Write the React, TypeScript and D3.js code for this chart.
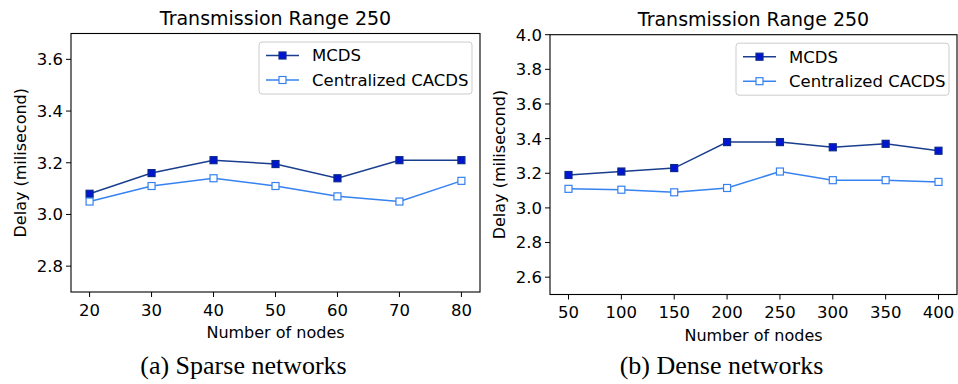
import React from "react";
import * as d3 from "d3";

// sparse networks
const sparseNodes = [20, 30, 40, 50, 60, 70, 80];
const sparseMcds = [3.08, 3.16, 3.21, 3.195, 3.14, 3.21, 3.21];
const sparseCacds = [3.05, 3.11, 3.14, 3.11, 3.07, 3.05, 3.13];
const sparseYTicks = [2.8, 3.0, 3.2, 3.4, 3.6];

// dense networks
const denseNodes = [50, 100, 150, 200, 250, 300, 350, 400];
const denseMcds = [3.19, 3.21, 3.23, 3.38, 3.38, 3.35, 3.37, 3.33];
const denseCacds = [3.11, 3.105, 3.09, 3.115, 3.21, 3.16, 3.16, 3.15];
const denseYTicks = [2.6, 2.8, 3.0, 3.2, 3.4, 3.6, 3.8, 4.0];

const seriesNames = ["MCDS", "Centralized CACDS"];
const titleText = "Transmission Range 250";
const xLabel = "Number of nodes";
const yLabel = "Delay (milisecond)";

const FONT = "'DejaVu Sans', sans-serif";
const MCDS_LINE = "#1a3e8e";
const MCDS_FILL = "#0014d4";
const CACDS_LINE = "#3582f0";

type PanelProps = {
  left: number;
  top: number;
  right: number;
  bottom: number;
  nodes: number[];
  mcds: number[];
  cacds: number[];
  yDomain: [number, number];
  yTicks: number[];
  caption: string;
};

const Panel = ({ left, top, right, bottom, nodes, mcds, cacds, yDomain, yTicks, caption }: PanelProps) => {
  const span = d3.max(nodes)! - d3.min(nodes)!;
  const x = d3
    .scaleLinear()
    .domain([d3.min(nodes)! - span * 0.05, d3.max(nodes)! + span * 0.05])
    .range([left, right]);
  const y = d3.scaleLinear().domain(yDomain).range([bottom, top]);

  const line = d3
    .line<[number, number]>()
    .x((d) => x(d[0]))
    .y((d) => y(d[1]));

  const series = [
    { name: seriesNames[0], vals: mcds, stroke: MCDS_LINE, fill: MCDS_FILL, edge: "#0a2a8a" },
    { name: seriesNames[1], vals: cacds, stroke: CACDS_LINE, fill: "#ffffff", edge: CACDS_LINE },
  ];

  const cx = (left + right) / 2;
  const cy = (top + bottom) / 2;
  const legX = right - 221;
  const legY = top + 8.5;

  return (
    <g>
      {series.map((s) => (
        <g key={s.name}>
          <path
            d={line(nodes.map((n, i) => [n, s.vals[i]]))!}
            fill="none"
            stroke={s.stroke}
            strokeWidth={1.5}
          />
          {nodes.map((n, i) => (
            <rect
              key={n}
              x={x(n) - 3.5}
              y={y(s.vals[i]) - 3.5}
              width={7}
              height={7}
              fill={s.fill}
              stroke={s.edge}
              strokeWidth={1.2}
            />
          ))}
        </g>
      ))}

      <rect x={left} y={top} width={right - left} height={bottom - top} fill="none" stroke="#000" strokeWidth={1.1} />

      {/* x axis */}
      {nodes.map((n) => (
        <g key={n}>
          <line x1={x(n)} x2={x(n)} y1={bottom} y2={bottom + 5} stroke="#000" strokeWidth={1} />
          <text x={x(n)} y={bottom + 23.5} textAnchor="middle" fontFamily={FONT} fontSize={16.5} fill="#000">
            {n}
          </text>
        </g>
      ))}
      <text x={cx} y={bottom + 46} textAnchor="middle" fontFamily={FONT} fontSize={16} fill="#000">
        {xLabel}
      </text>

      {/* y axis */}
      {yTicks.map((t) => (
        <g key={t}>
          <line x1={left - 5} x2={left} y1={y(t)} y2={y(t)} stroke="#000" strokeWidth={1} />
          <text
            x={left - 8}
            y={y(t)}
            dy="0.36em"
            textAnchor="end"
            fontFamily={FONT}
            fontSize={16.5}
            fill="#000"
          >
            {t.toFixed(1)}
          </text>
        </g>
      ))}
      <text
        transform={`translate(${left - 45},${cy}) rotate(-90)`}
        textAnchor="middle"
        fontFamily={FONT}
        fontSize={16}
        fill="#000"
      >
        {yLabel}
      </text>

      <text x={cx} y={top - 8.5} textAnchor="middle" fontFamily={FONT} fontSize={19} fill="#000">
        {titleText}
      </text>

      {/* legend */}
      <rect x={legX} y={legY} width={213} height={52} rx={3} fill="#fff" fillOpacity={0.8} stroke="#cccccc" strokeWidth={1} />
      {series.map((s, i) => {
        const ly = legY + 13.5 + i * 24.5;
        return (
          <g key={s.name}>
            <line x1={legX + 7} x2={legX + 40} y1={ly} y2={ly} stroke={s.stroke} strokeWidth={1.5} />
            <rect x={legX + 20} y={ly - 3.5} width={7} height={7} fill={s.fill} stroke={s.edge} strokeWidth={1.2} />
            <text x={legX + 53} y={ly} dy="0.36em" fontFamily={FONT} fontSize={16.5} fill="#000">
              {s.name}
            </text>
          </g>
        );
      })}

      <text
        x={cx - 32}
        y={374}
        textAnchor="middle"
        fontFamily="'Liberation Serif', 'Times New Roman', serif"
        fontSize={26}
        fill="#000"
      >
        {caption}
      </text>
    </g>
  );
};

export default function App() {
  return (
    <svg
      width={958}
      height={384}
      style={{ position: "absolute", left: 0, top: 0, background: "#fff" }}
    >
      <rect width={958} height={384} fill="#fff" />
      <Panel
        left={71}
        top={33.5}
        right={480}
        bottom={292}
        nodes={sparseNodes}
        mcds={sparseMcds}
        cacds={sparseCacds}
        yDomain={[2.7, 3.7]}
        yTicks={sparseYTicks}
        caption="(a) Sparse networks"
      />
      <Panel
        left={550}
        top={34.7}
        right={957}
        bottom={294.5}
        nodes={denseNodes}
        mcds={denseMcds}
        cacds={denseCacds}
        yDomain={[2.5, 4.0]}
        yTicks={denseYTicks}
        caption="(b) Dense networks"
      />
    </svg>
  );
}
